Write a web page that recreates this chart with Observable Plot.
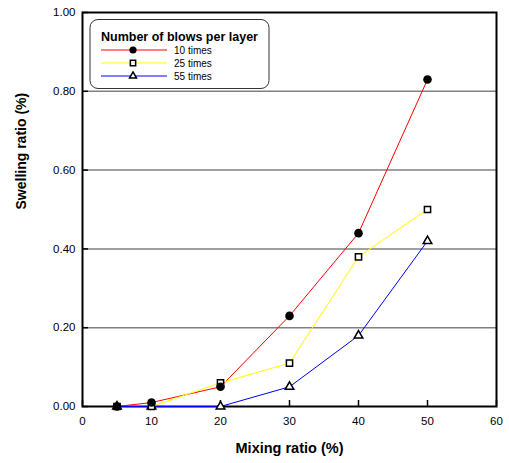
<!DOCTYPE html>
<html>
<head>
<meta charset="utf-8">
<script src="https://cdn.jsdelivr.net/npm/d3@7"></script>
<script src="https://cdn.jsdelivr.net/npm/@observablehq/plot@0.6"></script>
<style>
  html, body { margin: 0; padding: 0; background: #fff; }
  #chart svg { display: block; font-family: "Liberation Sans", Arial, sans-serif; }
</style>
</head>
<body>
<div id="chart"></div>
<script>
const mixing = [5, 10, 20, 30, 40, 50];
const blows10 = [0.00, 0.01, 0.05, 0.23, 0.44, 0.83];
const blows25 = [0.00, 0.00, 0.06, 0.11, 0.38, 0.50];
const blows55 = [0.00, 0.00, 0.00, 0.05, 0.18, 0.42];
const seriesNames = ["10 times", "25 times", "55 times"];
const xTicks = [0, 10, 20, 30, 40, 50, 60];
const yTicks = [0, 0.2, 0.4, 0.6, 0.8, 1.0];
const gridValues = [0.2, 0.4, 0.6, 0.8];

const colors = {"10 times": "#ff0000", "25 times": "#ffff00", "55 times": "#0000ff"};
const symbols = {"10 times": "circle", "25 times": "square", "55 times": "triangle"};
const radii = {"10 times": 4.3, "25 times": 3.5, "55 times": 3.2};
const legendRadii = {"10 times": 3.6, "25 times": 3.0, "55 times": 2.6};

const seriesVals = [blows10, blows25, blows55];
const data = [];
seriesNames.forEach((s, i) => mixing.forEach((m, j) => data.push({series: s, x: m, y: seriesVals[i][j]})));

const W = 509, H = 463;
const mL = 82, mR = 13, mT = 12, mB = 57;
const frameW = W - mL - mR, frameH = H - mT - mB, tickLen = 6;
const font = "Liberation Sans, Arial, sans-serif";

const plot = Plot.plot({
  width: W, height: H,
  marginLeft: mL, marginRight: mR, marginTop: mT, marginBottom: mB,
  style: {fontFamily: font, fontSize: "11px", color: "#000", background: "#fff"},
  x: {domain: [0, 60], ticks: xTicks},
  y: {domain: [0, 1], ticks: yTicks, tickFormat: d3.format(".2f")},
  marks: [
    Plot.ruleY(gridValues, {stroke: "#808080", strokeWidth: 1.5}),
    Plot.axisX({ticks: xTicks, tickSize: 0, tickPadding: 10, label: null, fontSize: 11.5}),
    Plot.axisY({ticks: yTicks, tickSize: 0, tickPadding: 7, label: null, tickFormat: d3.format(".2f"), fontSize: 11.5}),
    Plot.ruleX(xTicks, {insetTop: frameH - tickLen, stroke: "#000", strokeWidth: 1.5}),
    Plot.ruleY(yTicks, {insetRight: frameW - tickLen, stroke: "#000", strokeWidth: 1.5}),
    Plot.frame({stroke: "#000", strokeWidth: 2}),
    ...seriesNames.map(s => Plot.line(data.filter(d => d.series === s), {x: "x", y: "y", stroke: colors[s], strokeWidth: 1})),
    ...seriesNames.slice().reverse().map(s => Plot.dot(data.filter(d => d.series === s), {
      x: "x", y: "y", symbol: () => symbols[s],
      r: radii[s],
      fill: s === "10 times" ? "#000" : "#fff",
      stroke: "#000", strokeWidth: s === "10 times" ? 0 : 1.5
    })),
    Plot.text(["Mixing ratio (%)"], {frameAnchor: "bottom", dy: 46, fontWeight: "bold", fontSize: 14.5, fill: "#000"}),
    Plot.text(["Swelling ratio (%)"], {frameAnchor: "left", dx: -61, rotate: -90, fontWeight: "bold", fontSize: 14, fill: "#000"})
  ]
});
document.getElementById("chart").appendChild(plot);

// Legend
const svg = d3.select(plot);
const lg = svg.append("g").attr("font-family", font).attr("text-anchor", "start");
lg.append("rect").attr("x", 90).attr("y", 19.5).attr("width", 179).attr("height", 69)
  .attr("rx", 8).attr("fill", "#fff").attr("stroke", "#333").attr("stroke-width", 1);
lg.append("text").attr("x", 101).attr("y", 41).attr("font-size", 12.5).attr("font-weight", "bold")
  .attr("fill", "#000").text("Number of blows per layer");
const sym = {circle: d3.symbolCircle, square: d3.symbolSquare, triangle: d3.symbolTriangle};
seriesNames.forEach((s, i) => {
  const y = 50 + i * 13;
  lg.append("line").attr("x1", 101).attr("x2", 167).attr("y1", y).attr("y2", y)
    .attr("stroke", colors[s]).attr("stroke-width", 1);
  const r = legendRadii[s];
  lg.append("path").attr("transform", `translate(133,${y})`)
    .attr("d", d3.symbol(sym[symbols[s]], Math.PI * r * r)())
    .attr("fill", s === "10 times" ? "#000" : "#fff")
    .attr("stroke", s === "10 times" ? "none" : "#000").attr("stroke-width", 1.5);
  lg.append("text").attr("x", 174).attr("y", y + 3.5).attr("font-size", 10).attr("fill", "#000").text(s);
});
</script>
</body>
</html>
